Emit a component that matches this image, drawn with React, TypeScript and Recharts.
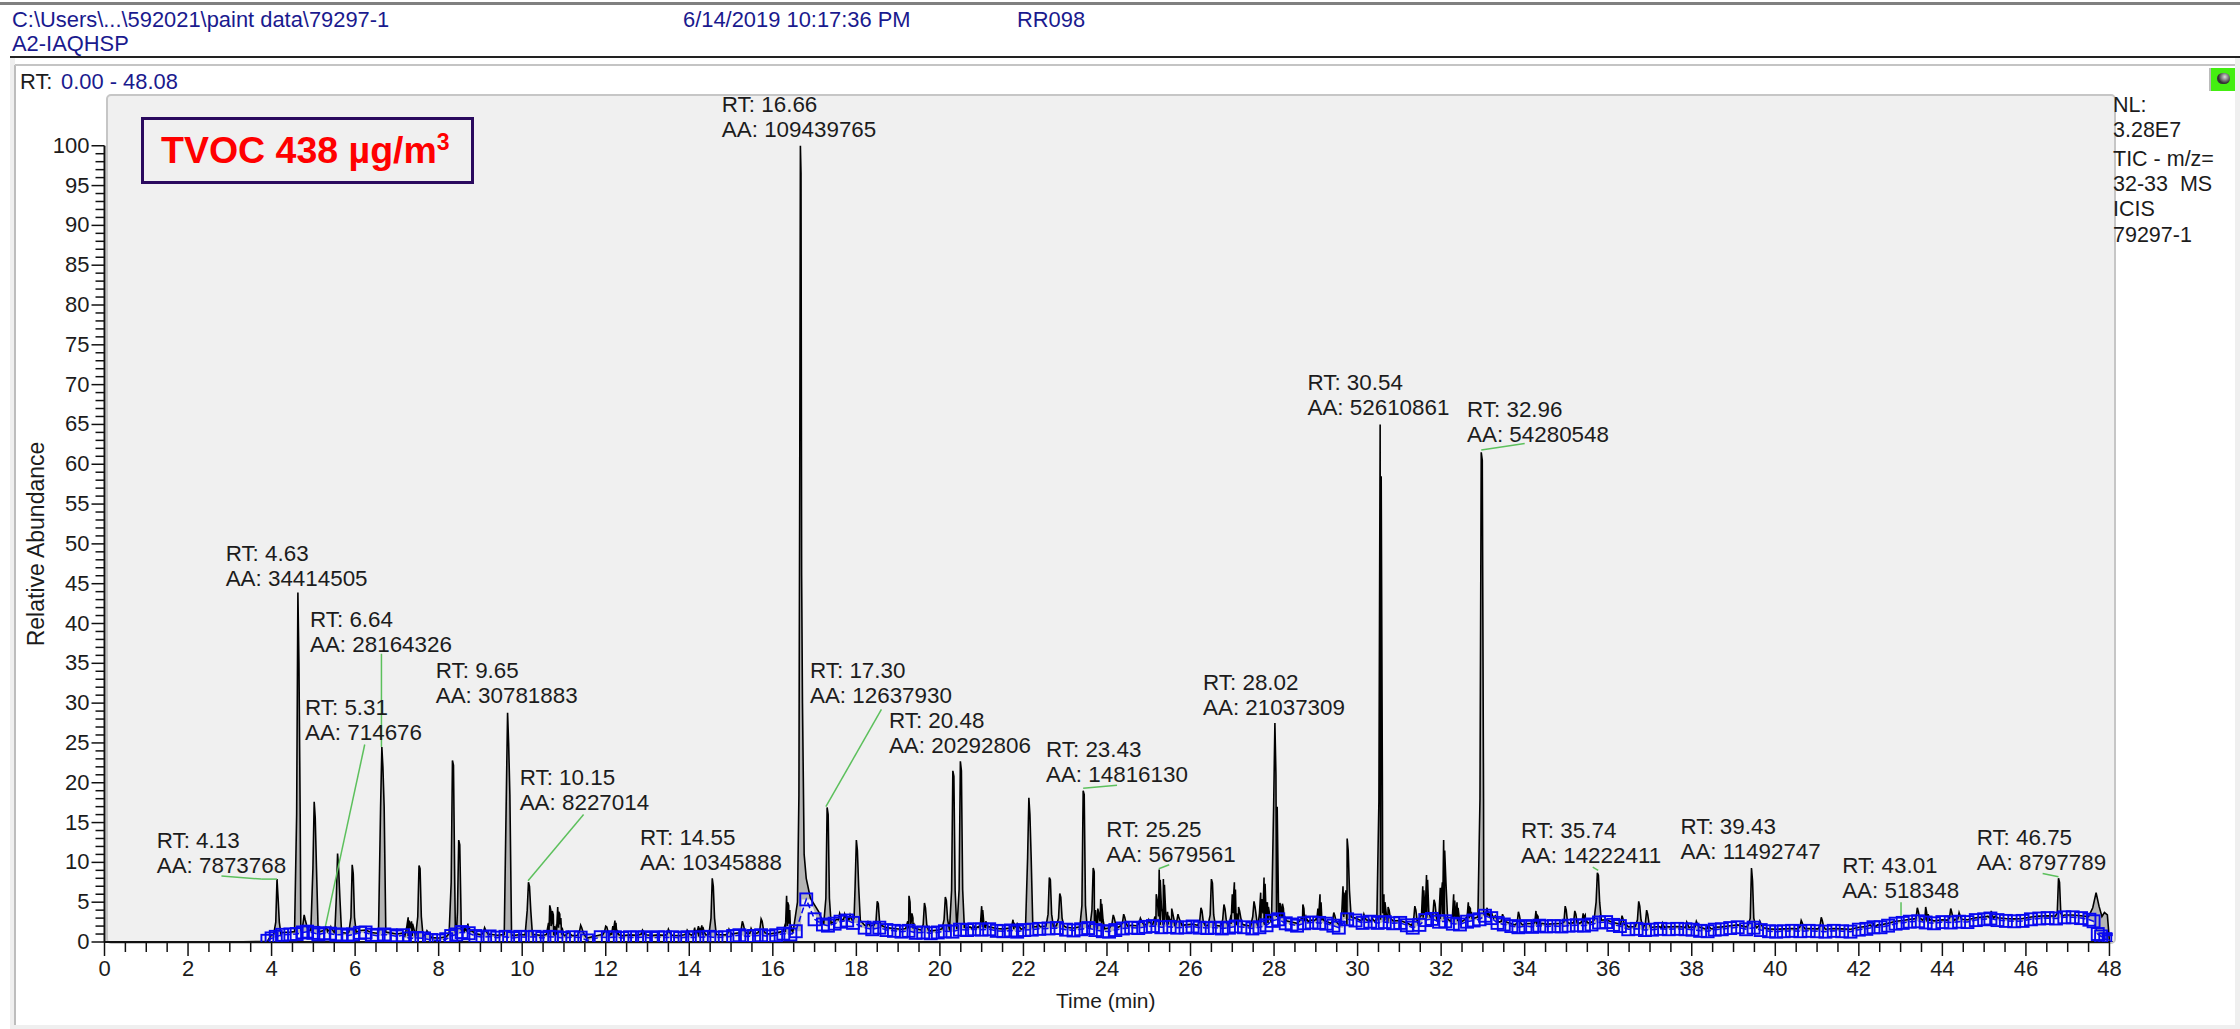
import React from "react";
import { ComposedChart, Area, Line, XAxis, YAxis, ReferenceDot, ReferenceLine } from "recharts";

// [retention time, apex, next sample after apex, samples at the foot]
type Peak = [number, number, number, number];
const peaksEarly: Peak[] = [
  [4.13, 7.9, 5.6, 2.5], [4.63, 43.9, 35, 16], [4.78, 3.4, 2.8, 2.2], [5.02, 17.6, 15.6, 9.3], [5.3, 1.9, 1.7, 1.5],
  [5.42, 1.9, 1.6, 1.4], [5.58, 11.1, 9.2, 5.6], [5.93, 9.7, 8.6, 3.1], [6.64, 24.5, 22, 17], [7.27, 3.1, 2.7, 2],
  [7.35, 2.6, 2.3, 1.7], [7.53, 9.6, 9.2, 3.2], [7.72, 1.4, 1.2, 1], [8.33, 22.8, 22.2, 7.5], [8.48, 12.8, 12.2, 3.8],
  [8.62, 1.9, 1.6, 1.3], [8.7, 2.3, 1.9, 1.4], [9.1, 1.8, 1.5, 1.2], [9.65, 28.8, 25, 18.5], [10.15, 7.5, 7, 4],
  [10.66, 4.6, 4, 2.4], [10.72, 3.9, 3.4, 2], [10.85, 4.4, 3.8, 2.2], [10.9, 3.5, 3, 1.8], [11.1, 1.3, 1.1, 1],
  [11.4, 2.1, 1.8, 1.3], [12.0, 2, 1.9, 1.3], [12.17, 2, 1.8, 1.2], [12.22, 2.7, 2.4, 1.5], [12.88, 1.5, 1.3, 1],
  [13.5, 1.6, 1.3, 1], [13.95, 1.5, 1.3, 1], [14.13, 1.8, 1.5, 1.1], [14.22, 2, 1.8, 1.3], [14.3, 2.1, 1.9, 1.3],
  [14.55, 8, 7, 3], [14.95, 1.6, 1.3, 1.1], [15.27, 2.6, 2.2, 1.5], [15.48, 1.7, 1.4, 1.1], [15.72, 2.9, 2.6, 1.6],
  [16.33, 5.8, 5, 2.3], [16.38, 4.6, 4, 2],
];
const peaksMid: Peak[] = [
  [17.3, 16.9, 16, 5.5], [17.6, 3.6, 3.2, 2.8], [17.72, 3.5, 3.1, 2.8], [17.85, 3.4, 3, 2.7], [18.0, 12.8, 11.5, 7],
  [18.28, 2.5, 2.2, 2], [18.5, 5.1, 4.8, 2.6], [19.26, 5.8, 5, 2.6], [19.33, 3.6, 3, 2.2], [19.63, 4.9, 4.3, 2.2],
  [20.13, 5.65, 5.2, 2.8], [20.31, 21.5, 20.8, 6.5], [20.49, 22.7, 21.5, 6.6], [20.8, 2.2, 1.9, 1.7], [21.0, 4.5, 4, 2.2],
  [21.1, 2.6, 2.2, 1.9], [21.75, 2.8, 2.4, 2], [21.85, 2.4, 2.1, 1.9], [22.13, 18.1, 16, 10.6], [22.35, 2.3, 2.1, 1.9],
  [22.62, 8.1, 7.8, 3.5], [22.87, 6.1, 5.6, 3], [23.43, 19, 18.5, 4.6], [23.67, 9.3, 8.8, 4], [23.78, 4.2, 3.6, 2.6],
  [23.85, 5.4, 4.8, 2.8], [24.15, 3.4, 3, 2.3], [24.4, 3.5, 3.1, 2.4], [24.8, 3, 2.7, 2.4], [25.0, 2.8, 2.5, 2.3],
  [25.18, 6, 5.2, 3.2], [25.25, 9.1, 7.8, 4.2], [25.35, 7.9, 7.2, 3.8], [25.45, 3.8, 3.3, 2.8], [25.55, 4.2, 3.6, 2.8],
  [25.7, 3.5, 3, 2.6], [26.25, 4.3, 3.9, 2.6], [26.5, 7.9, 7.4, 3.4], [26.8, 4.7, 4.2, 2.8], [27.0, 6, 5.2, 3.4],
  [27.05, 7.5, 6.6, 3.6], [27.15, 4.4, 3.9, 3], [27.52, 5.1, 4.4, 3.2], [27.68, 6.2, 5.4, 3.6], [27.76, 8.1, 7.3, 3.8],
  [27.84, 5, 4.4, 3.4], [28.02, 27.5, 21, 17], [28.14, 4.9, 4.3, 3.2], [28.2, 4.8, 4.2, 3.2], [28.69, 4.7, 4.2, 3],
  [28.76, 3.2, 2.9, 2.6], [29.05, 4.2, 3.8, 3], [29.1, 6, 5, 3.2], [29.43, 3.7, 3.3, 2.6], [29.65, 7, 6.2, 3.5],
  [29.75, 13, 11.5, 6.5], [30.15, 3.5, 3.1, 2.8], [30.35, 3, 2.8, 2.6],
];
const peaksLate: Peak[] = [
  [30.54, 65, 58.5, 17.7], [30.63, 6, 5, 3.6], [30.73, 4.4, 4, 3], [31.37, 4.5, 4, 2.7], [31.56, 7, 6.5, 3.4],
  [31.65, 8.4, 7.8, 3.8], [31.83, 5.3, 4.8, 3.2], [31.98, 6.8, 6, 3.5], [32.06, 12.8, 11.5, 7.5], [32.3, 6, 5.2, 3.2],
  [32.38, 5, 4.3, 3], [32.65, 5, 4.4, 3.2], [32.7, 4.2, 3.8, 3], [32.96, 61.5, 60.5, 18], [33.1, 4.3, 3.8, 3.4],
  [33.2, 3.8, 3.4, 3], [33.47, 3.5, 3.1, 2.6], [33.85, 3.8, 3.3, 2.4], [34.27, 3.9, 3.4, 2.4], [34.32, 3.2, 2.8, 2.2],
  [34.97, 4.5, 4, 2.5], [35.2, 3.9, 3.5, 2.4], [35.4, 3.6, 3.2, 2.6], [35.45, 3.4, 3, 2.5], [35.74, 8.7, 8.4, 5],
  [36.33, 3.3, 2.9, 2.2], [36.73, 5.1, 4.5, 2.8], [36.92, 4, 3.5, 2.4], [37.3, 2.4, 2.1, 1.8], [37.88, 2.5, 2.2, 1.8],
  [38.11, 2.6, 2.3, 1.9], [38.4, 2.1, 1.9, 1.7], [39.43, 9.3, 7.7, 3], [39.63, 2.6, 2.3, 2], [40.62, 2.7, 2.4, 1.9],
  [41.1, 3.1, 2.7, 2], [42.35, 2.3, 2.1, 1.9], [43.4, 4.3, 3.8, 3], [43.6, 4.4, 3.7, 3], [43.66, 3.5, 3.1, 2.8],
  [44.2, 4.2, 3.7, 3], [44.4, 3.7, 3.3, 2.9], [45.17, 3.9, 3.4, 3], [46.78, 8, 7.5, 3.6],
];
// Stretches of the trace whose shape is not a plain spike
const mainPeakTrace = [[16.5, 1.8], [16.59, 5], [16.625, 18.5], [16.645, 60], [16.66, 100], [16.675, 96.5], [16.69, 46], [16.71, 30], [16.75, 11], [16.8, 8], [16.9, 5.5], [17.1, 3.8]];
const startTrace = [[3.0, 0], [3.9, 0.1], [4.0, 0.9]];
const endTrace = [[47.5, 3.2], [47.6, 4.3], [47.68, 6.2], [47.75, 4.5], [47.82, 3.2], [47.88, 3.7], [47.95, 3.4], [48.0, 0.1], [48.08, 0]];

// Blue baseline markers: [retention time, abundance]
const baseA = [
  [3.9, 0.15], [4.0, 0.45], [4.1, 0.65], [4.25, 0.9], [4.45, 0.95], [4.6, 1.0], [4.75, 1.2], [4.85, 1.3], [5.0, 1.15], [5.12, 0.95], [5.25, 1.1], [5.4, 1.05], [5.55, 0.9], [5.68, 0.95], [5.82, 0.8], [5.95, 0.95], [6.12, 1.15], [6.25, 1.2], [6.4, 0.9], [6.52, 0.8], [6.7, 0.95], [6.85, 0.85], [7.0, 0.7], [7.15, 0.85], [7.3, 0.45], [7.48, 0.5], [7.65, 0.45], [7.82, 0.25], [8.0, 0.2], [8.18, 0.35], [8.3, 0.75], [8.42, 0.95], [8.55, 1.25], [8.72, 1.1], [8.88, 0.75],
  [9.05, 0.6], [9.22, 0.7], [9.4, 0.55], [9.6, 0.65], [9.78, 0.5], [9.95, 0.65], [10.12, 0.6], [10.3, 0.65], [10.48, 0.5], [10.65, 0.65], [10.82, 0.6], [11.0, 0.5], [11.2, 0.6], [11.4, 0.55], [11.55, 0.2], [11.88, 0.6], [12.05, 0.55], [12.22, 0.6], [12.4, 0.5], [12.58, 0.6], [12.75, 0.55], [12.92, 0.6], [13.1, 0.5], [13.25, 0.6], [13.42, 0.55], [13.6, 0.6], [13.78, 0.5], [13.95, 0.6], [14.12, 0.55], [14.3, 0.6], [14.48, 0.65], [14.65, 0.55], [14.85, 0.6], [15.05, 0.75], [15.2, 0.85], [15.38, 0.7], [15.55, 0.75], [15.72, 0.85], [15.9, 0.7], [16.08, 0.85], [16.25, 1.05], [16.42, 0.95], [16.55, 1.35],
];
const baseB = [
  [16.8, 5.35], [17.0, 2.85], [17.2, 2.2], [17.32, 2.05], [17.48, 2.3], [17.62, 2.55], [17.78, 2.7], [17.92, 2.4], [18.2, 1.8], [18.38, 1.6], [18.55, 1.8], [18.72, 1.5], [18.9, 1.4], [19.08, 1.3], [19.25, 1.4], [19.42, 1.15], [19.6, 1.2], [19.78, 1.1], [19.95, 1.2], [20.12, 1.35], [20.3, 1.3], [20.48, 1.55], [20.65, 1.5], [20.82, 1.6], [21.0, 1.55], [21.18, 1.6], [21.36, 1.4], [21.52, 1.35], [21.7, 1.45], [21.85, 1.3], [22.02, 1.5], [22.2, 1.55], [22.38, 1.65], [22.6, 1.7], [22.8, 1.75], [23.02, 1.55], [23.2, 1.45], [23.38, 1.6], [23.55, 1.75], [23.72, 1.5], [23.9, 1.35], [24.05, 1.3], [24.2, 1.5], [24.38, 1.7],
  [24.58, 1.8], [24.75, 1.75], [24.92, 1.9], [25.1, 2.0], [25.3, 1.85], [25.5, 1.9], [25.68, 1.8], [25.88, 1.85], [26.05, 1.95], [26.22, 1.8], [26.4, 1.75], [26.58, 1.8], [26.75, 1.7], [26.92, 1.8], [27.08, 1.95], [27.28, 1.85], [27.48, 1.7], [27.65, 1.85], [27.82, 2.1], [27.95, 2.65], [28.1, 2.85], [28.28, 2.35], [28.42, 2.2], [28.55, 2.05], [28.72, 2.35], [28.9, 2.45], [29.08, 2.4], [29.25, 2.3], [29.42, 2.05], [29.55, 1.8], [29.75, 2.85], [29.95, 2.7], [30.12, 2.4], [30.3, 2.55], [30.48, 2.4], [30.65, 2.5], [30.85, 2.35], [31.02, 2.4], [31.18, 2.1], [31.32, 1.8], [31.48, 2.15], [31.62, 2.75], [31.78, 2.9], [31.95, 2.55], [32.1, 2.6], [32.28, 2.3], [32.45, 2.2], [32.62, 2.55], [32.78, 2.7], [32.92, 2.85],
];
const baseC = [
  [33.05, 3.3], [33.2, 3.0], [33.35, 2.4], [33.5, 2.2], [33.68, 2.0], [33.85, 1.85], [34.02, 2.0], [34.18, 1.9], [34.35, 2.05], [34.52, 1.95], [34.7, 2.0], [34.88, 1.95], [35.05, 2.05], [35.25, 2.1], [35.42, 2.05], [35.6, 2.2], [35.78, 2.45], [35.95, 2.5], [36.12, 2.15], [36.28, 2.0], [36.48, 1.6], [36.68, 1.65], [36.88, 1.5], [37.05, 1.55], [37.25, 1.65], [37.45, 1.6], [37.65, 1.65], [37.85, 1.6], [38.02, 1.55], [38.2, 1.4], [38.38, 1.35], [38.55, 1.55], [38.72, 1.6], [38.92, 1.75], [39.1, 1.85], [39.3, 1.6], [39.48, 1.8], [39.65, 1.5], [39.85, 1.35], [40.02, 1.3], [40.2, 1.35], [40.4, 1.4], [40.6, 1.35], [40.8, 1.4], [41.0, 1.35], [41.2, 1.3], [41.4, 1.4], [41.6, 1.35],
  [41.8, 1.3], [42.0, 1.55], [42.18, 1.65], [42.35, 1.85], [42.52, 1.85], [42.7, 2.05], [42.88, 2.3], [43.05, 2.4], [43.22, 2.55], [43.42, 2.6], [43.6, 2.45], [43.8, 2.35], [44.0, 2.5], [44.2, 2.45], [44.4, 2.55], [44.6, 2.5], [44.8, 2.75], [45.0, 2.85], [45.15, 2.95], [45.32, 2.75], [45.52, 2.65], [45.72, 2.6], [45.92, 2.65], [46.12, 2.85], [46.32, 2.95], [46.52, 3.0], [46.72, 2.95], [46.92, 3.1], [47.12, 3.1], [47.32, 3.0], [47.52, 2.8], [47.62, 2.6], [47.72, 1.0], [47.8, 0.7], [47.9, 0.35], [47.98, 0.3], [48.03, 0.1],
];

const labelRows = [
  { rt: "4.13", aa: "7873768", t: 1.25, v: 8.53 },
  { rt: "4.63", aa: "34414505", t: 2.9, v: 44.6 },
  { rt: "6.64", aa: "28164326", t: 4.92, v: 36.3 },
  { rt: "5.31", aa: "714676", t: 4.8, v: 25.2 },
  { rt: "9.65", aa: "30781883", t: 7.93, v: 29.9 },
  { rt: "10.15", aa: "8227014", t: 9.94, v: 16.4 },
  { rt: "14.55", aa: "10345888", t: 12.82, v: 8.9 },
  { rt: "16.66", aa: "109439765", t: 14.78, v: 101 },
  { rt: "17.30", aa: "12637930", t: 16.89, v: 29.9 },
  { rt: "20.48", aa: "20292806", t: 18.78, v: 23.65 },
  { rt: "23.43", aa: "14816130", t: 22.54, v: 20 },
  { rt: "25.25", aa: "5679561", t: 23.98, v: 9.96 },
  { rt: "28.02", aa: "21037309", t: 26.3, v: 28.4 },
  { rt: "30.54", aa: "52610861", t: 28.8, v: 66.1 },
  { rt: "32.96", aa: "54280548", t: 32.62, v: 62.7 },
  { rt: "35.74", aa: "14222411", t: 33.91, v: 9.75 },
  { rt: "39.43", aa: "11492747", t: 37.73, v: 10.25 },
  { rt: "43.01", aa: "518348", t: 41.6, v: 5.45 },
  { rt: "46.75", aa: "8797789", t: 44.82, v: 8.9 },
];
const leaders = [
  [[2.8, 8.3], [3.75, 7.9]], [[3.75, 7.9], [4.13, 7.9]], [[6.23, 24.8], [5.29, 2]], [[6.63, 36.2], [6.63, 24.5]],
  [[11.47, 16], [10.14, 7.7]], [[18.6, 29.2], [17.27, 17]], [[23.43, 19.3], [24.24, 19.7]], [[25.24, 9.2], [25.49, 9.7]],
  [[32.96, 61.8], [34, 62.6]], [[35.63, 9.4], [35.76, 9]], [[43.01, 5], [43.01, 3.3]], [[46.4, 8.6], [46.78, 8.2]],
];
const sideNotes = ["NL:", "3.28E7", "TIC - m/z=", "32-33  MS", "ICIS", "79297-1"];
const xMinorTicks = Array.from({ length: 97 }, (_, i) => i * 0.5);
const yMinorTicks = Array.from({ length: 101 }, (_, i) => i);

const basePairs = [...baseA, ...baseB, ...baseC];
const nearestBase = (t: number) => {
  let best = basePairs[0];
  basePairs.forEach((b) => { if (Math.abs(b[0] - t) < Math.abs(best[0] - t)) best = b; });
  return best[1];
};
const allPeaks = [...peaksEarly, ...peaksMid, ...peaksLate];
const tracePoints: number[][] = [...startTrace, ...mainPeakTrace, ...endTrace];
allPeaks.forEach(([rt, top, next, foot]) => {
  const floor = nearestBase(rt) + 0.3;
  tracePoints.push([rt - 0.08, floor], [rt - 0.03, foot], [rt, top], [rt + 0.025, next], [rt + 0.055, foot], [rt + 0.095, floor]);
});
basePairs.forEach(([t, b]) => {
  const nearPeak = allPeaks.some(([rt]) => Math.abs(rt - t) < 0.1);
  const inSpecial = (t > 16.45 && t < 17.15) || t > 47.45 || t < 4.05;
  if (!nearPeak && !inSpecial) tracePoints.push([t, b + 0.3]);
});
const traceData = tracePoints
  .sort((a, b) => a[0] - b[0])
  .map(([t, y]) => ({ t, y, band: [Math.min(y, t < 3.9 ? 0 : nearestBase(t)), y] }));
const baselineData = basePairs.map(([t, b]) => ({ t, b }));

const FONT = "'Liberation Sans', Arial, sans-serif";
const INK = "#1c1c1c";
const NAVY = "#1a1a8e";
const BLUE = "#0808f0";

const XTick = (p: any) => {
  const v = p.payload.value;
  const major = v % 2 === 0;
  return (
    <g>
      <line x1={p.x} x2={p.x} y1={p.y} y2={p.y + (major ? 14 : 10)} stroke="#111" strokeWidth={1.5} />
      {major && <text x={p.x} y={p.y + 34} textAnchor="middle" fontFamily={FONT} fontSize={22} fill={INK}>{v}</text>}
    </g>
  );
};
const YTick = (p: any) => {
  const v = p.payload.value;
  const major = v % 5 === 0;
  return (
    <g>
      <line x1={p.x - (major ? 13 : 9)} x2={p.x} y1={p.y} y2={p.y} stroke="#111" strokeWidth={1.5} />
      {major && <text x={p.x - 15} y={p.y + 7} textAnchor="end" fontFamily={FONT} fontSize={22} fill={INK}>{v}</text>}
    </g>
  );
};
const BlueSquare = (p: any) => (
  <rect key={p.index} x={p.cx - 6} y={p.cy - 6} width={12} height={12} fill="none" stroke={BLUE} strokeWidth={1.9} />
);
const PeakLabel = (p: any, rt: string, aa: string) => (
  <text fontFamily={FONT} fontSize={22.4} fill={INK}>
    <tspan x={p.cx} y={p.cy - 26}>{`RT: ${rt}`}</tspan>
    <tspan x={p.cx} y={p.cy - 1}>{`AA: ${aa}`}</tspan>
  </text>
);

const abs = (o: React.CSSProperties): React.CSSProperties => ({ position: "absolute", whiteSpace: "pre", fontFamily: FONT, lineHeight: 1, ...o });

export default function App() {
  return (
    <div style={{ position: "absolute", left: 0, top: 0, width: 2240, height: 1029, background: "#fff", overflow: "hidden" }}>
      <div style={abs({ left: 0, top: 2, width: 2240, height: 3, background: "#808080" })} />
      <div style={abs({ left: 10, top: 56, width: 2230, height: 2, background: "#222" })} />
      <div style={abs({ left: 10, top: 58, width: 5, height: 971, background: "#efefef" })} />
      <div style={abs({ left: 14, top: 65, width: 2, height: 960, background: "#bdbdbd" })} />
      <div style={abs({ left: 15, top: 64, width: 2220, height: 2, background: "#c4c4c4" })} />
      <div style={abs({ left: 10, top: 1025, width: 2230, height: 4, background: "#efefef" })} />
      <div style={abs({ left: 2235, top: 58, width: 5, height: 971, background: "#efefef" })} />
      <div style={abs({ left: 12, top: 9, fontSize: 21.9, color: NAVY })}>{"C:\\Users\\...\\592021\\paint data\\79297-1"}</div>
      <div style={abs({ left: 12, top: 33, fontSize: 21.9, color: NAVY })}>A2-IAQHSP</div>
      <div style={abs({ left: 683, top: 9, fontSize: 21.9, color: NAVY })}>6/14/2019 10:17:36 PM</div>
      <div style={abs({ left: 1017, top: 9, fontSize: 21.9, color: NAVY })}>RR098</div>
      <div style={abs({ left: 20, top: 71, fontSize: 21.9, color: INK })}>RT:</div>
      <div style={abs({ left: 61, top: 71, fontSize: 21.9, color: NAVY })}>0.00 - 48.08</div>
      <div style={abs({ left: 106, top: 94, width: 2006, height: 846, background: "#f0f0f0", border: "2px solid #c6c6c6", borderRadius: 5 })} />
      <div style={abs({ left: 2209, top: 68, width: 24, height: 23, background: "#44ee11", borderLeft: "2px solid #bbb" })}>
        <div style={abs({ left: 6, top: 5, width: 13, height: 11, borderRadius: 7, background: "radial-gradient(circle at 60% 35%, #ddd, #333 60%)" })} />
      </div>
      {sideNotes.map((s, i) => (
        <div key={s} style={abs({ left: 2113, top: [95, 120, 149, 174, 199, 225][i], fontSize: 21.5, color: INK })}>{s}</div>
      ))}
      <div style={abs({ left: 24, top: 544, fontSize: 23, color: INK, transform: "translate(-50%,-50%) rotate(-90deg)", transformOrigin: "center", marginLeft: 12 })}>Relative Abundance</div>
      <div style={abs({ left: 1056, top: 990, fontSize: 21, color: INK })}>Time (min)</div>

      <div style={abs({ left: 0, top: 0 })}>
        <ComposedChart width={2240} height={1029} data={traceData} margin={{ left: 24.5, top: 94, right: 127.2, bottom: 27 }}>
          <XAxis dataKey="t" type="number" domain={[0, 48.08]} ticks={xMinorTicks} interval={0} height={60} tickSize={0} tickMargin={0} tick={<XTick />} axisLine={false} tickLine={false} allowDataOverflow />
          <YAxis type="number" domain={[0, 106.5]} ticks={yMinorTicks} interval={0} width={80} tickSize={0} tickMargin={0} tick={<YTick />} axisLine={false} tickLine={false} allowDataOverflow />
          <Area dataKey="band" type="linear" stroke="none" fill="#b4b4b4" fillOpacity={1} dot={false} activeDot={false} isAnimationActive={false} />
          <Line dataKey="y" type="linear" stroke="#000" strokeWidth={1.6} dot={false} activeDot={false} isAnimationActive={false} />
          <Line data={baselineData} dataKey="b" type="linear" stroke={BLUE} strokeWidth={1.5} strokeDasharray="6 3" dot={<BlueSquare />} activeDot={false} isAnimationActive={false} />
          <ReferenceLine segment={[{ x: 0, y: 0 }, { x: 48, y: 0 }]} stroke="#111" strokeWidth={2} ifOverflow="visible" />
          <ReferenceLine segment={[{ x: 0, y: 0 }, { x: 0, y: 100 }]} stroke="#111" strokeWidth={2} ifOverflow="visible" />
          {leaders.map((s, i) => (
            <ReferenceLine key={i} segment={[{ x: s[0][0], y: s[0][1] }, { x: s[1][0], y: s[1][1] }]} stroke="#5cc05c" strokeWidth={1.5} ifOverflow="visible" />
          ))}
          {labelRows.map((l) => (
            <ReferenceDot key={l.rt} x={l.t} y={l.v} r={0} ifOverflow="visible" shape={(p: any) => PeakLabel(p, l.rt, l.aa)} />
          ))}
        </ComposedChart>
      </div>

      <div style={abs({ left: 141, top: 117, width: 333, height: 67, boxSizing: "border-box", border: "3px solid #2a0a5e", background: "#f0f0f0", color: "#ff0000", fontWeight: 700, fontSize: 37.5, display: "flex", alignItems: "center", justifyContent: "flex-start", paddingLeft: 17 })}>
        <span>TVOC 438 µg/m<sup style={{ fontSize: 23, verticalAlign: "baseline", position: "relative", top: -13 }}>3</sup></span>
      </div>
    </div>
  );
}
